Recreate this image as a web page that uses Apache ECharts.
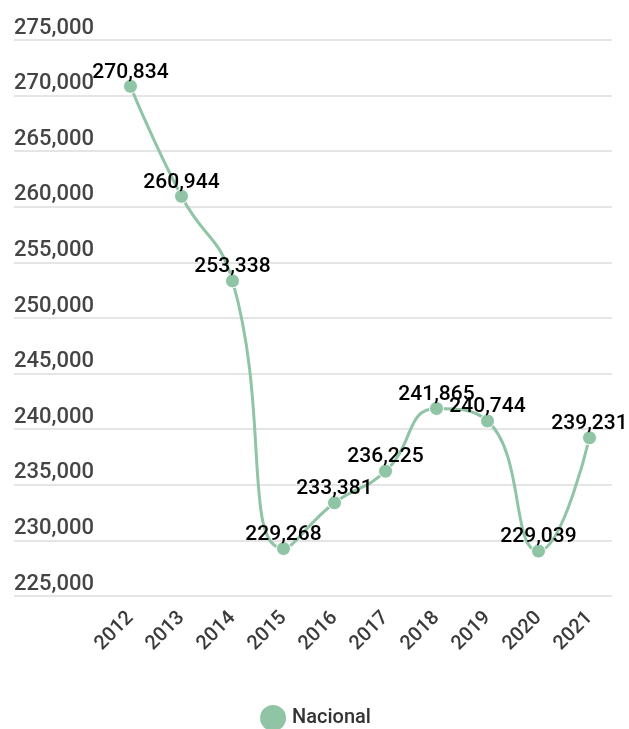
<!DOCTYPE html>
<html>
<head>
<meta charset="utf-8">
<script src="https://cdn.jsdelivr.net/npm/echarts@6/dist/echarts.min.js"></script>
<style>
	* { margin: 0; padding: 0; }
	#main { width: 629px; height: 729px; }
</style>
</head>
<body>
<div id="main"></div>
<script>
	var years = ['2012', '2013', '2014', '2015', '2016', '2017', '2018', '2019', '2020', '2021']
	var nacional = [270834, 260944, 253338, 229268, 233381, 236225, 241865, 240744, 229039, 239231]
	var yMin = 225000
	var yMax = 275000
	var yStep = 5000

	var green = '#8fc4a5'
	var fmt = function (v) { return v.toLocaleString('en-US') }

	var chart = echarts.init(document.getElementById('main'))
	chart.setOption({
		textStyle: { fontFamily: 'Roboto' },
		legend: {
			data: ['Nacional'],
			bottom: -9,
			left: 'center',
			icon: 'circle',
			itemWidth: 28,
			itemHeight: 28,
			itemGap: 18,
			textStyle: { fontSize: 20, fontWeight: 500, color: '#333' }
		},
		grid: [
			{ left: 14, right: 17, top: 40, bottom: 133 },
			{ left: 105, right: 14, top: 40, bottom: 133 }
		],
		xAxis: [
			{ gridIndex: 0, type: 'category', data: years, show: false },
			{
				gridIndex: 1,
				type: 'category',
				data: years,
				boundaryGap: true,
				axisLine: { show: false },
				axisTick: { show: false },
				axisLabel: { rotate: 45, fontSize: 20, fontWeight: 500, color: '#3a3a3a', margin: 19 }
			}
		],
		yAxis: [
			{
				gridIndex: 0,
				type: 'value',
				min: yMin,
				max: yMax,
				interval: yStep,
				axisLine: { show: false },
				axisTick: { show: false },
				splitLine: { lineStyle: { color: '#dcdcdc', width: 1.5 } },
				axisLabel: {
					inside: true,
					margin: 0,
					verticalAlign: 'bottom',
					padding: [0, 0, 1, 0],
					fontSize: 22,
					fontWeight: 500,
					color: '#444',
					formatter: fmt
				}
			},
			{
				gridIndex: 1,
				type: 'value',
				min: yMin,
				max: yMax,
				interval: yStep,
				show: false
			}
		],
		series: [{
			name: 'Nacional',
			type: 'line',
			xAxisIndex: 1,
			yAxisIndex: 1,
			data: nacional,
			smooth: 0.5,
			symbol: 'circle',
			symbolSize: 14,
			lineStyle: { color: green, width: 3 },
			itemStyle: { color: green, borderColor: '#fff', borderWidth: 1 },
			label: {
				show: true,
				position: 'top',
				distance: -4,
				fontSize: 21,
				fontWeight: 500,
				color: '#000',
				formatter: function (p) { return fmt(p.value) }
			}
		}]
	})
</script>
</body>
</html>
